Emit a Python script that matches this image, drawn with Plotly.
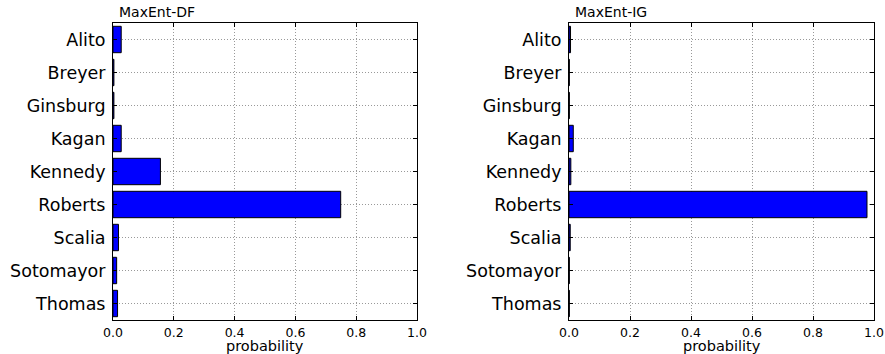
import plotly.graph_objects as go

justices = ["Alito", "Breyer", "Ginsburg", "Kagan", "Kennedy", "Roberts", "Scalia", "Sotomayor", "Thomas"]
maxent_df = [0.027, 0.003, 0.003, 0.027, 0.156, 0.749, 0.018, 0.012, 0.015]
maxent_ig = [0.005, 0.001, 0.001, 0.014, 0.006, 0.977, 0.004, 0.001, 0.001]
x_ticks = [0.0, 0.2, 0.4, 0.6, 0.8, 1.0]
x_tick_text = ["0.0", "0.2", "0.4", "0.6", "0.8", "1.0"]
titles = ["MaxEnt-DF", "MaxEnt-IG"]
x_label = "probability"

W, H = 885, 354
ML, MR, MT, MB = 113, 11, 23, 34
PW = W - ML - MR
PH = H - MT - MB
font = "DejaVu Sans"

fig = go.Figure()
for i, vals in enumerate([maxent_df, maxent_ig]):
    xa = "x" if i == 0 else "x2"
    ya = "y" if i == 0 else "y2"
    fig.add_trace(go.Bar(
        x=vals, y=justices, orientation="h", xaxis=xa, yaxis=ya,
        width=0.8, marker=dict(color="#0000ff", line=dict(color="black", width=1)),
        showlegend=False, hoverinfo="x+y"))

x_domains = [[0, (417 - ML) / PW], [(569 - ML) / PW, 1]]
y_domain = [0, 1]

axis_common = dict(showline=True, linecolor="black", linewidth=1, mirror="allticks",
                   ticks="inside", ticklen=4, tickcolor="black",
                   showgrid=True, gridcolor="#999999", griddash="1px,2px", gridwidth=1,
                   zeroline=False, automargin=False)

layout = dict(
    width=W, height=H, margin=dict(l=ML, r=MR, t=MT, b=MB, autoexpand=False),
    plot_bgcolor="white", paper_bgcolor="white",
    font=dict(family=font, color="black"),
    bargap=0.2,
)
for i in range(2):
    sx = "" if i == 0 else "2"
    layout["xaxis" + sx] = dict(axis_common, domain=x_domains[i], range=[0, 1],
                                tickvals=x_ticks, ticktext=x_tick_text,
                                tickfont=dict(size=12.5, family=font),
                                ticklabeloverflow="allow", ticklabelstandoff=1,
                                anchor="y" + sx)
    layout["yaxis" + sx] = dict(axis_common, domain=y_domain, type="category",
                                categoryorder="array", categoryarray=justices,
                                range=[8.5, -0.5],
                                tickfont=dict(size=17.5, family=font), ticklabelstandoff=3,
                                anchor="x" + sx)
fig.update_layout(**layout)

for i in range(2):
    x_px = ML + x_domains[i][0] * PW + 4
    fig.add_annotation(text=titles[i], x=(x_px - ML) / PW, y=1 + 11 / PH,
                       xref="paper", yref="paper", xanchor="left", yanchor="middle",
                       showarrow=False, font=dict(size=14, family=font, color="black"))
    fig.add_annotation(text=x_label, x=sum(x_domains[i]) / 2, y=-26 / PH,
                       xref="paper", yref="paper", xanchor="center", yanchor="middle",
                       showarrow=False, font=dict(size=14.5, family=font, color="black"))

fig.write_html("out.html", config={"displayModeBar": False},
               post_script="document.body.style.margin='0';")
